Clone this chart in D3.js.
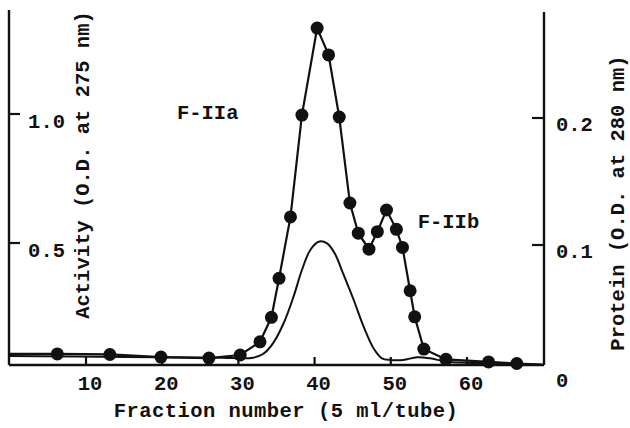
<!DOCTYPE html>
<html>
<head>
<meta charset="utf-8">
<script src="https://cdn.jsdelivr.net/npm/d3@7"></script>
<style>
  html, body { margin: 0; padding: 0; background: #fff; }
  svg { display: block; }
  text { font-family: "Liberation Mono", "Courier New", monospace; font-weight: bold; fill: #111; }
</style>
</head>
<body>
<svg id="chart" width="630" height="428"></svg>
<script>
// ---- data ----
const activityFraction = [6.3, 13.2, 19.9, 26.2, 30.3, 32.9, 34.4, 35.4, 36.9, 38.4, 40.4, 41.9, 43.3, 44.7, 45.8, 47.2, 48.3, 49.5, 50.8, 51.6, 52.6, 53.2, 54.4, 57.3, 62.9, 66.6];
const activityOD275 = [0.068, 0.066, 0.056, 0.052, 0.064, 0.115, 0.21, 0.361, 0.599, 0.994, 1.331, 1.227, 0.986, 0.653, 0.536, 0.474, 0.542, 0.626, 0.551, 0.481, 0.313, 0.212, 0.087, 0.047, 0.037, 0.031];
// the activity trace starts and ends at the frame
const activityLineEnds = [[0, 0.068], [70, 0.027]];

const proteinFraction = [0, 15, 28, 30.3, 32.0, 33.3, 34.6, 36.0, 37.3, 38.4, 39.5, 40.6, 41.7, 42.7, 43.8, 45.2, 46.5, 47.8, 48.9, 50.0, 51.7, 53.5, 55.2, 57.4, 60.0, 63.1, 66.1, 69.8];
const proteinOD280 = [0.0122, 0.0114, 0.0109, 0.0104, 0.0109, 0.0138, 0.0222, 0.038, 0.0589, 0.0799, 0.0957, 0.1022, 0.1009, 0.0931, 0.0773, 0.0563, 0.0353, 0.0183, 0.0104, 0.0091, 0.0091, 0.0112, 0.0104, 0.0077, 0.0069, 0.0065, 0.0059, 0.0051];

const xTicks = [10, 20, 30, 40, 50, 60];
const leftTicks = [0.5, 1.0];
const leftTickLabels = ["0.5", "1.0"];
const rightTicks = [0.1, 0.2];
const rightTickLabels = ["0.1", "0.2"];
const rightZeroLabel = "0";
const xTitle = "Fraction number (5 ml/tube)";
const leftTitle = "Activity (O.D. at 275 nm)";
const rightTitle = "Protein (O.D. at 280 nm)";
const peakLabels = [{ text: "F-IIa", fx: 22.0, v: 0.979 }, { text: "F-IIb", fx: 53.6, v: 0.556 }];

// ---- layout ----
const frameLeft = 9, frameRight = 544, frameTop = 12, frameBottom = 365;
const FS = 20.5;

const svg = d3.select("#chart");
const x = d3.scaleLinear().domain([0, 70]).range([9.3, 542.7]);
const yL = d3.scaleLinear().domain([0, 1]).range([371.5, 113.5]);
const yR = d3.scaleLinear().domain([0, 0.2]).range([371.5, 117.5]);

// frame lines
const frame = svg.append("g").attr("stroke", "#111").attr("stroke-width", 2.4).attr("fill", "none");
frame.append("line").attr("x1", frameLeft).attr("x2", frameLeft).attr("y1", frameTop - 2).attr("y2", frameBottom);
frame.append("line").attr("x1", frameRight).attr("x2", frameRight).attr("y1", frameTop).attr("y2", frameBottom);
frame.append("line").attr("x1", frameLeft).attr("x2", frameRight).attr("y1", frameBottom).attr("y2", frameBottom);

// bottom axis (ticks inside, pointing up)
const xAxis = d3.axisBottom(x).tickValues(xTicks).tickSize(-8).tickPadding(0).tickFormat(d3.format("d"));
const gx = svg.append("g").attr("transform", `translate(0,${frameBottom})`).call(xAxis);
gx.select(".domain").remove();
gx.selectAll(".tick line").attr("stroke", "#111").attr("stroke-width", 2.2);
gx.selectAll(".tick text").attr("font-size", FS).attr("dy", null).attr("y", 25).attr("x", 4)
  .attr("font-family", "Liberation Mono, Courier New, monospace").attr("font-weight", "bold").attr("fill", "#111");

// left axis (ticks inside)
const lAxis = d3.axisRight(yL).tickValues(leftTicks).tickSize(11).tickFormat((d, i) => leftTickLabels[i]);
const gl = svg.append("g").attr("transform", `translate(${frameLeft},0)`).call(lAxis);
gl.select(".domain").remove();
gl.selectAll(".tick line").attr("stroke", "#111").attr("stroke-width", 2.2);
gl.selectAll(".tick text").attr("font-size", FS).attr("text-anchor", "end").attr("x", 56).attr("dy", null).attr("y", 14)
  .attr("font-family", "Liberation Mono, Courier New, monospace").attr("font-weight", "bold").attr("fill", "#111");

// right axis (ticks inside)
const rAxis = d3.axisLeft(yR).tickValues(rightTicks).tickSize(12).tickFormat((d, i) => rightTickLabels[i]);
const gr = svg.append("g").attr("transform", `translate(${frameRight},0)`).call(rAxis);
gr.select(".domain").remove();
gr.selectAll(".tick line").attr("stroke", "#111").attr("stroke-width", 2.2);
gr.selectAll(".tick text").attr("font-size", FS).attr("text-anchor", "start").attr("x", 12).attr("dy", null).attr("y", 13)
  .attr("font-family", "Liberation Mono, Courier New, monospace").attr("font-weight", "bold").attr("fill", "#111");
svg.append("text").attr("x", frameRight + 12).attr("y", yR(0) + 15).attr("font-size", FS).text(rightZeroLabel);

// protein curve
const protein = proteinFraction.map((f, i) => [f, proteinOD280[i]]);
svg.append("path").datum(protein)
  .attr("fill", "none").attr("stroke", "#111").attr("stroke-width", 2)
  .attr("d", d3.line().x(d => x(d[0])).y(d => yR(d[1])).curve(d3.curveCatmullRom.alpha(0.5)));

// activity line + markers
const activity = activityFraction.map((f, i) => [f, activityOD275[i]]);
const activityLine = [activityLineEnds[0], ...activity, activityLineEnds[1]];
svg.append("path").datum(activityLine)
  .attr("fill", "none").attr("stroke", "#111").attr("stroke-width", 2.2)
  .attr("d", d3.line().x(d => x(d[0])).y(d => yL(d[1])));
svg.append("g").selectAll("circle").data(activity).join("circle")
  .attr("cx", d => x(d[0])).attr("cy", d => yL(d[1])).attr("r", 6.5).attr("fill", "#111");

// peak labels
svg.append("g").selectAll("text").data(peakLabels).join("text")
  .attr("x", d => x(d.fx)).attr("y", d => yL(d.v)).attr("font-size", FS).attr("text-anchor", "start")
  .text(d => d.text);

// axis titles
svg.append("text").attr("x", 286).attr("y", 417).attr("text-anchor", "middle").attr("font-size", FS)
  .attr("letter-spacing", 0.45).text(xTitle);
svg.append("text").attr("transform", "translate(89,165) rotate(-90)").attr("text-anchor", "middle").attr("font-size", FS).text(leftTitle);
svg.append("text").attr("transform", "translate(624,203) rotate(-90)").attr("text-anchor", "middle").attr("font-size", FS).text(rightTitle);
</script>
</body>
</html>
